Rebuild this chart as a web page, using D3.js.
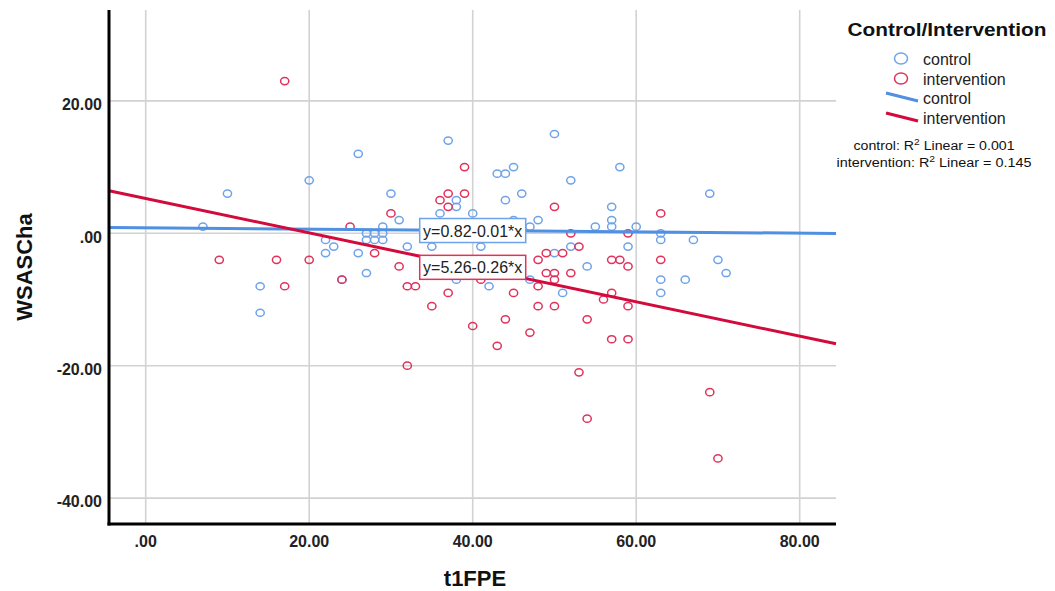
<!DOCTYPE html>
<html>
<head>
<meta charset="utf-8">
<script src="https://cdn.jsdelivr.net/npm/d3@7"></script>
<style>
  html, body { margin: 0; padding: 0; background: #ffffff; }
  svg { display: block; font-family: "Liberation Sans", Arial, sans-serif; }
</style>
</head>
<body>
<svg id="chart" width="1055" height="591"></svg>
<script>
// t1FPE (x) vs WSASCha (y), split by group
const controlX = [7,10,14,14,20,22,22,23,24,26,26,27,27,27,28,28,29,29,29,30,31,32,35,36,37,38,38,38,40,41,42,43,44,44,45,45,46,47,47,48,50,50,51,52,52,54,55,57,57,57,58,59,60,63,63,63,63,66,67,69,70,71];
const controlY = [1,6,-8,-12,8,-1,-3,-2,-7,12,-3,0,-1,-6,0,-1,1,0,-1,6,2,-2,-2,3,14,5,4,-7,3,-2,-8,9,9,5,10,2,6,1,-7,2,15,-3,-9,8,-2,-5,1,4,2,1,10,-2,1,0,-1,-7,-9,-7,-1,6,-4,-6];

const interventionX = [9,16,17,17,20,24,25,28,30,31,32,32,33,35,36,37,37,37,39,39,40,41,43,44,45,47,48,48,48,49,49,50,50,50,50,51,52,52,53,53,54,54,56,57,57,57,58,59,59,59,59,63,63,69,70];
const interventionY = [-4,-4,23,-8,-4,-7,1,-3,3,-5,-8,-20,-8,-11,5,6,4,-9,10,6,-14,-7,-17,-13,-9,-15,-4,-8,-11,-3,-6,4,-6,-7,-11,-3,0,-6,-2,-21,-13,-28,-10,-4,-9,-16,-4,0,-5,-11,-16,3,-4,-24,-34];

// Linear fits: y = a + b*x
const groups = ["control", "intervention"];
const fitIntercept = [0.82, 5.26];
const fitSlope = [-0.01, -0.26];
const fitLabels = ["y=0.82-0.01*x", "y=5.26-0.26*x"];
const rSquared = ["0.001", "0.145"];

const xTicks = [0, 20, 40, 60, 80];
const xTickLabels = [".00", "20.00", "40.00", "60.00", "80.00"];
const yTicks = [-40, -20, 0, 20];
const yTickLabels = ["-40.00", "-20.00", ".00", "20.00"];

const pointColor = ["#6ea3ea", "#e0325b"];
const lineColor = ["#4f90e2", "#d30a3c"];

const svg = d3.select("#chart");
const plotL = 109, plotR = 836, plotT = 10, plotB = 524;

const x = d3.scaleLinear().domain([-4.49, 84.44]).range([plotL, plotR]);
const y = d3.scaleLinear().domain([-43.91, 33.73]).range([plotB, plotT]);

// grid
const grid = svg.append("g");
grid.selectAll("line.gx").data(xTicks).join("line")
  .attr("x1", d => x(d)).attr("x2", d => x(d))
  .attr("y1", plotT).attr("y2", plotB)
  .attr("stroke", "#d2d2d2").attr("stroke-width", 1.6);
grid.selectAll("line.gy").data(yTicks).join("line")
  .attr("x1", plotL).attr("x2", plotR)
  .attr("y1", d => y(d)).attr("y2", d => y(d))
  .attr("stroke", "#d2d2d2").attr("stroke-width", 1.6);

// points
const series = [
  d3.zip(controlX, controlY),
  d3.zip(interventionX, interventionY)
];
series.forEach((pts, i) => {
  svg.append("g").selectAll("ellipse").data(pts).join("ellipse")
    .attr("cx", d => x(d[0])).attr("cy", d => y(d[1]))
    .attr("rx", 4.1).attr("ry", 3.6)
    .attr("fill", "none")
    .attr("stroke", pointColor[i]).attr("stroke-width", 1.5);
});

// fit lines
const [x0, x1] = x.domain();
groups.forEach((g, i) => {
  const f = v => fitIntercept[i] + fitSlope[i] * v;
  svg.append("line")
    .attr("x1", x(x0)).attr("y1", y(f(x0)))
    .attr("x2", x(x1)).attr("y2", y(f(x1)))
    .attr("stroke", lineColor[i]).attr("stroke-width", 3);
});

// fit equation labels, centred on each line at x = 40
groups.forEach((g, i) => {
  const cx = x(40), cy = y(fitIntercept[i] + fitSlope[i] * 40);
  const w = 106, h = 24;
  svg.append("rect")
    .attr("x", cx - w / 2).attr("y", cy - h / 2)
    .attr("width", w).attr("height", h)
    .attr("fill", "#ffffff")
    .attr("stroke", pointColor[i]).attr("stroke-width", 1.5);
  svg.append("text")
    .attr("x", cx).attr("y", cy + 6)
    .attr("text-anchor", "middle")
    .attr("font-size", 16).attr("fill", "#222")
    .text(fitLabels[i]);
});

// axes
svg.append("line").attr("x1", plotL).attr("x2", plotL)
  .attr("y1", plotT).attr("y2", plotB + 1.5)
  .attr("stroke", "#000").attr("stroke-width", 3);
svg.append("line").attr("x1", plotL - 1.5).attr("x2", plotR)
  .attr("y1", plotB).attr("y2", plotB)
  .attr("stroke", "#000").attr("stroke-width", 3);

svg.append("g").selectAll("text").data(xTicks).join("text")
  .attr("x", d => x(d)).attr("y", 547)
  .attr("text-anchor", "middle")
  .attr("font-size", 16).attr("font-weight", "bold").attr("fill", "#222")
  .text((d, i) => xTickLabels[i]);

svg.append("g").selectAll("text").data(yTicks).join("text")
  .attr("x", 102).attr("y", d => y(d) + 9.3)
  .attr("text-anchor", "end")
  .attr("font-size", 16).attr("font-weight", "bold").attr("fill", "#222")
  .text((d, i) => yTickLabels[i]);

// axis titles
svg.append("text").attr("x", 475).attr("y", 586)
  .attr("text-anchor", "middle")
  .attr("font-size", 22).attr("font-weight", "bold").attr("fill", "#111")
  .text("t1FPE");
svg.append("text")
  .attr("transform", "translate(32,267) rotate(-90)")
  .attr("text-anchor", "middle")
  .attr("font-size", 22).attr("font-weight", "bold").attr("fill", "#111")
  .text("WSASCha");

// legend
const lg = svg.append("g");
lg.append("text").attr("x", 947).attr("y", 36)
  .attr("text-anchor", "middle")
  .attr("font-size", 19).attr("font-weight", "bold").attr("fill", "#111")
  .attr("textLength", 199).attr("lengthAdjust", "spacingAndGlyphs")
  .text("Control/Intervention");

groups.forEach((g, i) => {
  const cy = 58.5 + i * 20;
  lg.append("ellipse").attr("cx", 901).attr("cy", cy)
    .attr("rx", 6.5).attr("ry", 5.6)
    .attr("fill", "none").attr("stroke", pointColor[i]).attr("stroke-width", 1.5);
  lg.append("text").attr("x", 923).attr("y", cy + 6)
    .attr("font-size", 16).attr("fill", "#222").text(g);
});
groups.forEach((g, i) => {
  const ly = 104 + i * 20;
  lg.append("line").attr("x1", 886).attr("y1", ly - 11)
    .attr("x2", 918).attr("y2", ly - 3)
    .attr("stroke", lineColor[i]).attr("stroke-width", 3);
  lg.append("text").attr("x", 923).attr("y", ly)
    .attr("font-size", 16).attr("fill", "#222").text(g);
});

const rLen = [161, 195];
groups.forEach((g, i) => {
  const t = lg.append("text").attr("x", 934).attr("y", 150 + i * 16.5)
    .attr("text-anchor", "middle")
    .attr("font-size", 12.5).attr("fill", "#111")
    .attr("textLength", rLen[i]).attr("lengthAdjust", "spacingAndGlyphs");
  t.append("tspan").text(g + ": R");
  t.append("tspan").attr("baseline-shift", "super").attr("font-size", 9).text("2");
  t.append("tspan").text(" Linear = " + rSquared[i]);
});
</script>
</body>
</html>
